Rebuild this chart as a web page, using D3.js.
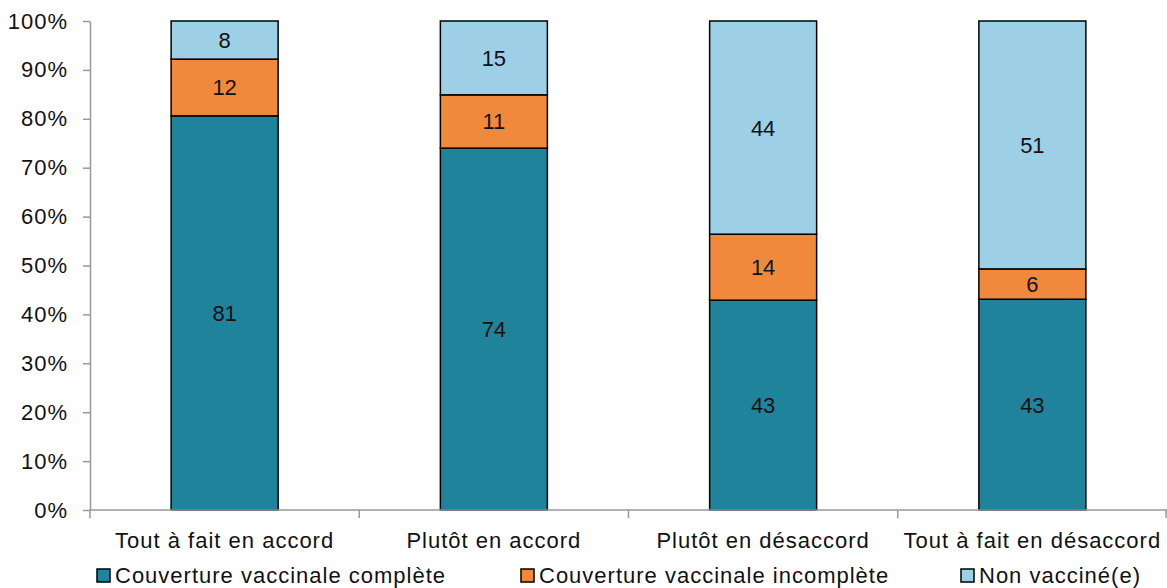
<!DOCTYPE html>
<html><head><meta charset="utf-8">
<script src="https://cdn.jsdelivr.net/npm/d3@7"></script>
<style>body{margin:0;background:#fff;} text{font-family:"Liberation Sans",Arial,sans-serif;fill:#111;}</style>
</head><body>
<svg id="c" width="1167" height="588"></svg>
<script>
const categories = ["Tout à fait en accord","Plutôt en accord","Plutôt en désaccord","Tout à fait en désaccord"];
const seriesNames = ["Couverture vaccinale complète","Couverture vaccinale incomplète","Non vacciné(e)"];
const complete = [80.6, 74.0, 42.9, 43.1];
const incomplete = [11.6, 10.9, 13.5, 6.2];
const nonVacc = [7.8, 15.1, 43.6, 50.7];
const labelsComplete = [81, 74, 43, 43];
const labelsIncomplete = [12, 11, 14, 6];
const labelsNon = [8, 15, 44, 51];
const yTicks = [0,10,20,30,40,50,60,70,80,90,100];
const colors = ["#1F839C","#F0893B","#9DCFE6"];

const svg = d3.select("#c");
const x = d3.scaleBand().domain(categories).range([90,1167]).paddingInner(0).paddingOuter(0);
const y = d3.scaleLinear().domain([0,100]).range([510,21]);
const barW = 107;

const series = [complete, incomplete, nonVacc];
const labels = [labelsComplete, labelsIncomplete, labelsNon];

// y axis
const gy = svg.append("g").attr("transform","translate(90,0)")
  .call(d3.axisLeft(y).tickValues(yTicks).tickFormat(d=>d+"%").tickSize(7).tickSizeOuter(0));
gy.select(".domain").attr("stroke","#999").attr("stroke-width",1.5);
gy.selectAll(".tick line").attr("stroke","#999").attr("stroke-width",1.5);
gy.selectAll(".tick text").attr("x",-22).attr("font-size","22px").attr("letter-spacing","1px")
  .attr("font-family","Liberation Sans, Arial, sans-serif").attr("fill","#111");

// bars
categories.forEach((c,i)=>{
  let base = 0;
  const cx = x(c) + x.bandwidth()/2;
  series.forEach((s,k)=>{
    const v = s[i];
    const y0 = y(base), y1 = y(base+v);
    svg.append("rect").attr("x",cx-barW/2).attr("width",barW)
      .attr("y",y1).attr("height",y0-y1)
      .attr("fill",colors[k]).attr("stroke","#000").attr("stroke-width",1.5);
    svg.append("text").attr("x",cx).attr("y",(y0+y1)/2).attr("dy","0.36em")
      .attr("text-anchor","middle").attr("font-size","22px").text(labels[k][i]);
    base += v;
  });
});

// x axis
const gx = svg.append("g");
gx.append("line").attr("x1",90).attr("x2",1167).attr("y1",y(0)).attr("y2",y(0)).attr("stroke","#999").attr("stroke-width",1.5);
const bounds = categories.map(c=>x(c)).concat([x.range()[1]-1]);
gx.selectAll("line.t").data(bounds).join("line").attr("class","t")
  .attr("x1",d=>d).attr("x2",d=>d).attr("y1",y(0)).attr("y2",y(0)+8).attr("stroke","#999").attr("stroke-width",1.5);
gx.selectAll("text").data(categories).join("text")
  .attr("x",d=>x(d)+x.bandwidth()/2).attr("y",548).attr("text-anchor","middle")
  .attr("font-size","22px").attr("letter-spacing","1px").text(d=>d);

// legend
const legX = [97, 521, 961];
seriesNames.forEach((n,k)=>{
  svg.append("rect").attr("x",legX[k]).attr("y",569).attr("width",13).attr("height",13)
    .attr("fill",colors[k]).attr("stroke","#000").attr("stroke-width",1.5);
  svg.append("text").attr("x",legX[k]+18).attr("y",583).attr("font-size","22px").attr("letter-spacing","1px").text(n);
});
</script>
</body></html>
